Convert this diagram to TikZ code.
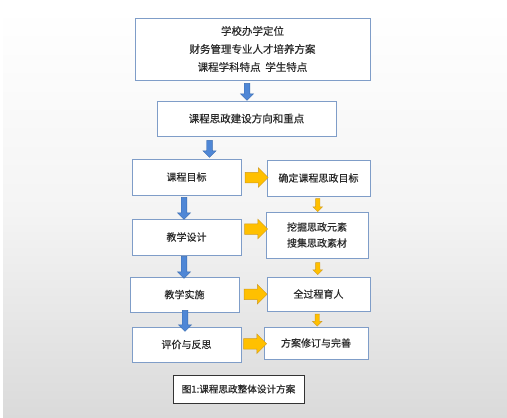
\documentclass[tikz,border=0pt]{standalone}
\usepackage{fontspec}
\newfontfamily\cjk[FakeBold=0.4]{Noto Sans CJK SC}
\usetikzlibrary{shapes.arrows,calc}
\definecolor{boxline}{HTML}{7F9DC8}
\definecolor{txt}{HTML}{2A2A2A}
\definecolor{bluefill}{HTML}{4F87D6}
\definecolor{blueline}{HTML}{3A6CB0}
\definecolor{orfill}{HTML}{FFC000}
\definecolor{orline}{HTML}{D09A20}
\definecolor{bgbot}{HTML}{DADADA}
\tikzset{
  box/.style={draw=boxline, line width=0.9pt, fill=white, text=txt, align=center,
    font=\cjk\fontsize{10}{18}\selectfont, inner sep=0pt, outer sep=0pt},
  capbox/.style={draw=black!80, line width=0.8pt, fill=white, text=txt,
    font=\cjk\fontsize{9.6}{12}\selectfont, inner sep=0pt},
  barrow/.style={single arrow, draw=blueline, fill=bluefill, line width=0.4pt,
    inner sep=2.6pt, single arrow head extend=3.8pt, minimum height=#1, rotate=-90},
  oarrow/.style={single arrow, draw=orline, fill=orfill, line width=0.5pt,
    inner sep=5pt, single arrow head extend=4.5pt, minimum height=#1},
  soarrow/.style={single arrow, draw=orline, fill=orfill, line width=0.4pt,
    inner sep=2pt, single arrow head extend=2.6pt, minimum height=#1, rotate=-90}
}
\begin{document}
\begin{tikzpicture}[x=1pt,y=1pt]
\useasboundingbox (0,0) rectangle (507,-418);
\fill[white] (0,0) rectangle (507,-418);
\shade[top color=white, bottom color=bgbot, middle color=white!70!bgbot] (3,-8) rectangle (507,-418);

\node[box, minimum width=235pt, minimum height=62pt, font=\cjk\fontsize{10.5}{18}\selectfont] (b1) at (252.5,-49)
  {学校办学定位\\财务管理专业人才培养方案\\课程学科特点\ \ 学生特点};
\node[box, minimum width=179pt, minimum height=35pt, font=\cjk\fontsize{10.5}{14}\selectfont] (b2) at (246.5,-118.5) {课程思政建设方向和重点};
\node[box, minimum width=109pt, minimum height=36pt] (b3) at (186.5,-177) {课程目标};
\node[box, minimum width=109pt, minimum height=36pt] (b4) at (186.5,-237) {教学设计};
\node[box, minimum width=109pt, minimum height=35pt] (b5) at (184.5,-294.5) {教学实施};
\node[box, minimum width=109pt, minimum height=35pt] (b6) at (186.5,-344.5) {评价与反思};

\node[box, minimum width=103pt, minimum height=36pt] (ra) at (318.5,-178) {确定课程思政目标};
\node[box, minimum width=102pt, minimum height=46pt, font=\cjk\fontsize{10}{16}\selectfont] (rb) at (317,-235) {挖掘思政元素\\搜集思政素材};
\node[box, minimum width=103pt, minimum height=34pt] (rc) at (318.5,-294) {全过程育人};
\node[box, minimum width=104pt, minimum height=32pt] (rd) at (316,-343) {方案修订与完善};

\node[capbox, minimum width=131pt, minimum height=28pt] (cap) at (238.5,-389) {图1:课程思政整体设计方案};

% blue arrows
\node[barrow=17pt] (a1) at ($(b1.south)!.5!(b2.north)+(-2.5,0)$) {};
\node[barrow=17pt] (a2) at ($(b2.south)!.5!(b3.north)+(-7,0)$) {};
\node[barrow=22pt] (a3) at ($(b3.south)!.5!(b4.north)+(-2.5,0)$) {};
\node[barrow=22pt] (a4) at ($(b4.south)!.5!(b5.north)+(-1.5,0)$) {};
\node[barrow=21pt] (a5) at ($(b5.south)!.5!(b6.north)+(-0.5,0)$) {};

% orange arrows
\node[oarrow=23pt] (o1) at ($(b3.east)!.5!(ra.west)$) {};
\node[oarrow=23pt] (o2) at ($(b4.east)!.5!(rb.west)+(0,7)$) {};
\node[oarrow=23pt] (o3) at ($(b5.east)!.5!(rc.west)$) {};
\node[oarrow=23pt] (o4) at ($(b6.east)!.5!(rd.west)$) {};

\node[soarrow=13pt] (s1) at ($(ra.south)!.5!(rb.north)$) {};
\node[soarrow=12pt] (s2) at ($(rb.south)!.5!(rc.north)$) {};
\node[soarrow=12pt] (s3) at ($(rc.south)!.5!(rd.north)$) {};
\end{tikzpicture}
\end{document}
